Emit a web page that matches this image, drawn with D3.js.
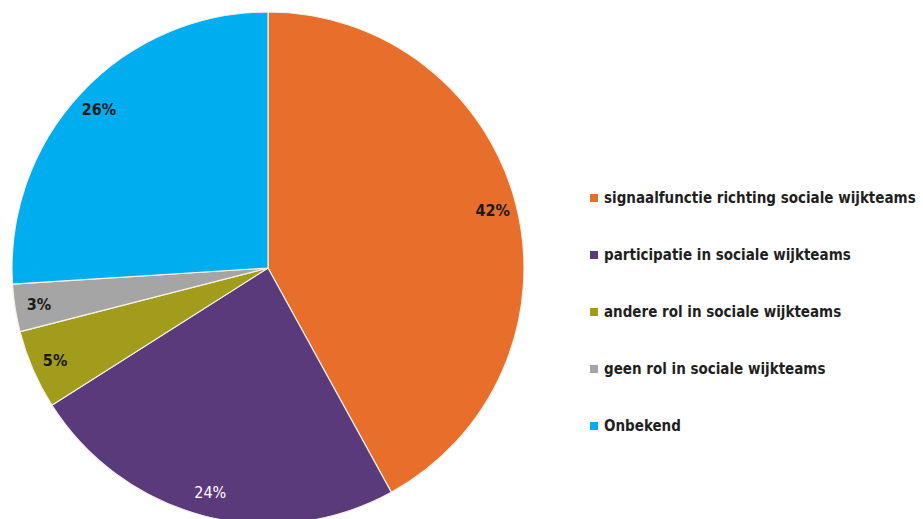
<!DOCTYPE html>
<html>
<head>
<meta charset="utf-8">
<script src="https://cdn.jsdelivr.net/npm/d3@7"></script>
<style>
  html, body { margin: 0; padding: 0; background: #ffffff; }
  svg { display: block; }
  text { font-family: "DejaVu Sans Condensed", "Liberation Sans Narrow", sans-serif; }
</style>
</head>
<body>
<svg id="chart" width="923" height="519"></svg>
<script>
// Rol van de organisaties in de sociale wijkteams (percentages)
const categories = [
  "signaalfunctie richting sociale wijkteams",
  "participatie in sociale wijkteams",
  "andere rol in sociale wijkteams",
  "geen rol in sociale wijkteams",
  "Onbekend"
];
const values = [42, 24, 5, 3, 26];
const colors = ["#E86F2B", "#5B3A7C", "#A19C1B", "#A5A5A5", "#00AEEF"];
const labelColors = ["#1a1a1a", "#ffffff", "#1a1a1a", "#1a1a1a", "#1a1a1a"];

const svg = d3.select("#chart");
const cx = 268, cy = 268, radius = 256;

const data = categories.map((c, i) => ({ name: c, value: values[i], color: colors[i], labelColor: labelColors[i] }));

const pie = d3.pie().value(d => d.value).sort(null);
const arc = d3.arc().innerRadius(0).outerRadius(radius);
const labelArc = d3.arc().innerRadius(232).outerRadius(232);

const g = svg.append("g").attr("transform", `translate(${cx},${cy})`);
const arcs = pie(data);

g.selectAll("path.slice")
  .data(arcs)
  .enter().append("path")
  .attr("class", "slice")
  .attr("d", arc)
  .attr("fill", d => d.data.color)
  .attr("stroke", "#f4f1e8")
  .attr("stroke-width", 1.2);

g.selectAll("text.pct")
  .data(arcs)
  .enter().append("text")
  .attr("class", "pct")
  .attr("transform", d => `translate(${labelArc.centroid(d)})`)
  .attr("text-anchor", "middle")
  .attr("dy", "0.35em")
  .attr("font-size", 16)
  .attr("font-weight", d => d.data.labelColor === "#ffffff" ? "normal" : "bold")
  .attr("fill", d => d.data.labelColor)
  .text(d => d.data.value + "%");

// Legend
const legend = svg.append("g").attr("transform", "translate(590,198)");
const rowStep = 57;
const rows = legend.selectAll("g.row")
  .data(data)
  .enter().append("g")
  .attr("class", "row")
  .attr("transform", (d, i) => `translate(0,${i * rowStep})`);

rows.append("rect")
  .attr("x", 0).attr("y", -4)
  .attr("width", 8).attr("height", 8)
  .attr("fill", d => d.color);

rows.append("text")
  .attr("x", 14)
  .attr("dy", "0.35em")
  .attr("font-size", 15)
  .attr("font-weight", "bold")
  .attr("fill", "#1f1f1f")
  .text(d => d.name);
</script>
</body>
</html>
